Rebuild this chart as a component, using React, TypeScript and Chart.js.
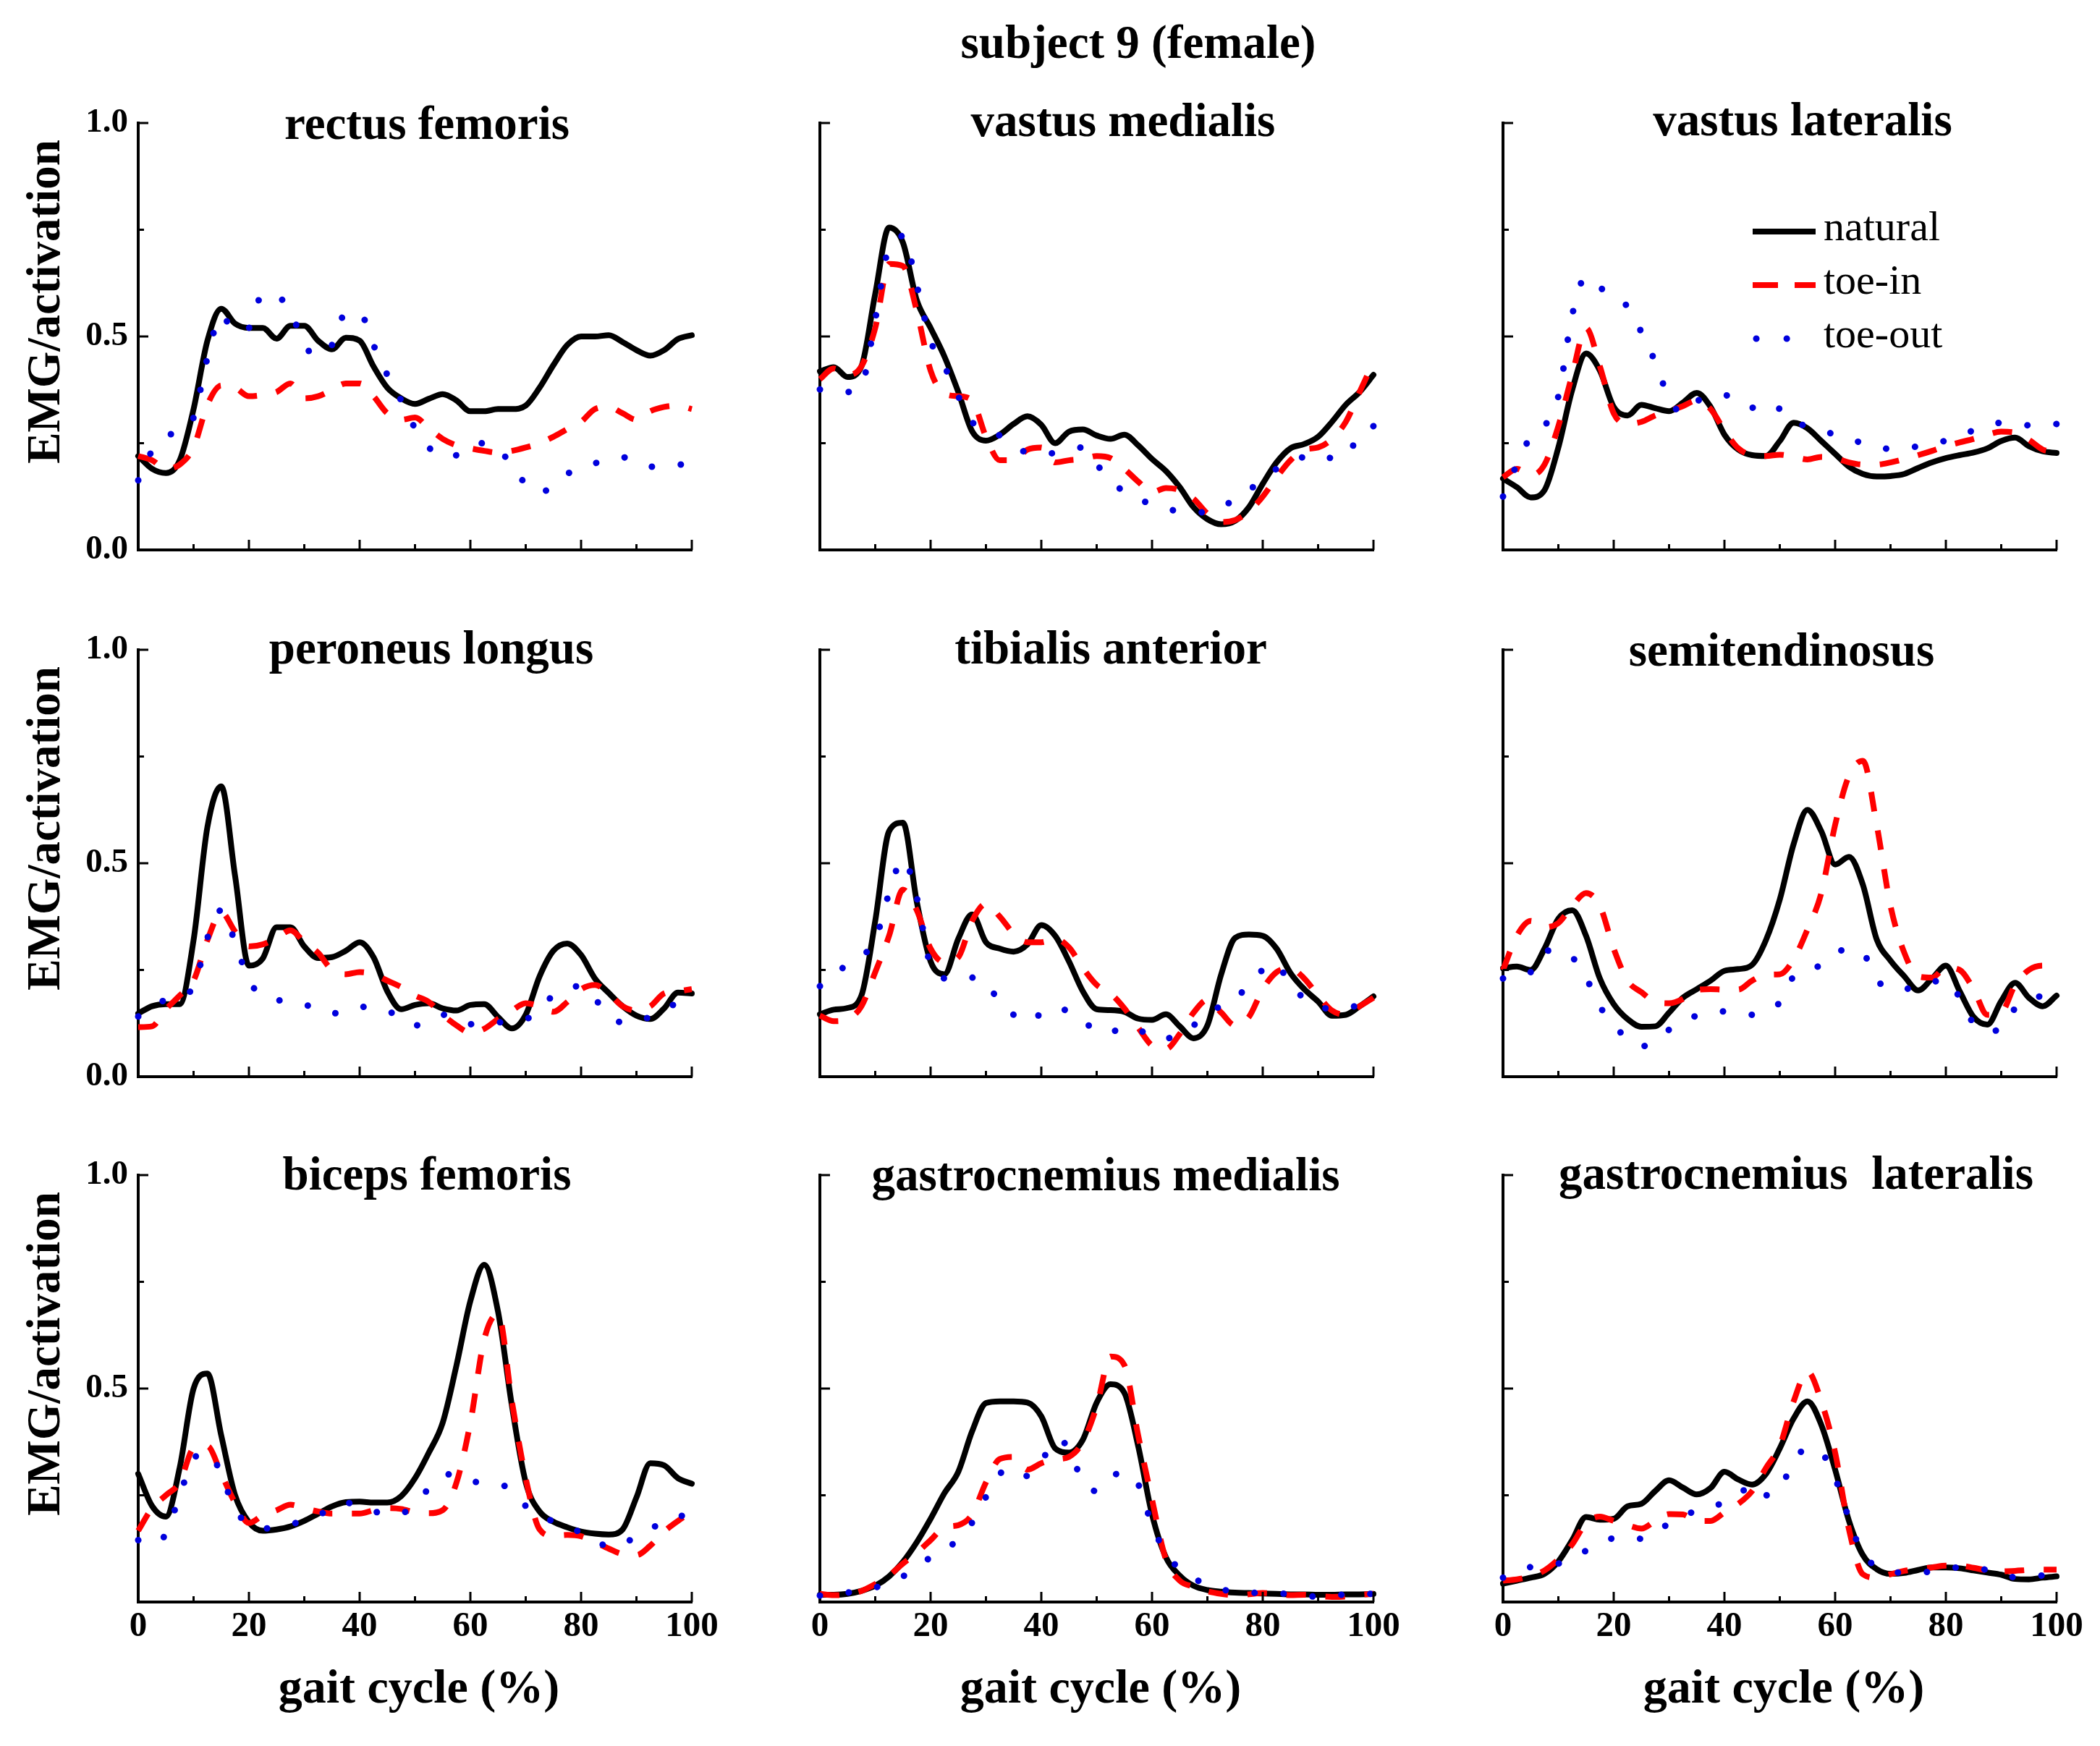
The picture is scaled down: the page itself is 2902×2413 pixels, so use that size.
import React, { useEffect, useRef } from 'react';
import { Chart, registerables } from 'chart.js';

Chart.register(...registerables);

// ---------------- data ----------------
const GAIT = [0, 2.5, 5, 7.5, 10, 12.5, 15, 17.5, 20, 22.5, 25, 27.5, 30, 32.5, 35, 37.5, 40, 42.5, 45, 47.5, 50, 52.5, 55, 57.5, 60, 62.5, 65, 67.5, 70, 72.5, 75, 77.5, 80, 82.5, 85, 87.5, 90, 92.5, 95, 97.5, 100];
const X_TICK_VALUES = [0, 10, 20, 30, 40, 50, 60, 70, 80, 90, 100];
const X_TICK_LABELS = ['0', '', '20', '', '40', '', '60', '', '80', '', '100'];
const Y_TICK_VALUES = [0, 0.25, 0.5, 0.75, 1];
const Y_TICK_LABELS = ['0.0', '', '0.5', '', '1.0'];
const SERIES_NAMES = ['natural', 'toe-in', 'toe-out'];
const MAIN_TITLE = 'subject 9 (female)';
const X_TITLE = 'gait cycle (%)';
const Y_TITLE = 'EMG/activation';
const MUSCLES = ['rectus femoris', 'vastus medialis', 'vastus lateralis', 'peroneus longus', 'tibialis anterior', 'semitendinosus', 'biceps femoris', 'gastrocnemius medialis', 'gastrocnemius  lateralis'];

// rectus femoris
const rfNatural = [0.22, 0.19, 0.18, 0.21, 0.33, 0.49, 0.565, 0.53, 0.52, 0.52, 0.495, 0.525, 0.525, 0.49, 0.47, 0.497, 0.49, 0.43, 0.38, 0.355, 0.342, 0.354, 0.365, 0.35, 0.325, 0.325, 0.33, 0.33, 0.338, 0.38, 0.433, 0.48, 0.5, 0.5, 0.503, 0.487, 0.468, 0.455, 0.468, 0.494, 0.503];
const rfToeIn = [0.22, 0.21, 0.19, 0.2, 0.24, 0.34, 0.385, 0.38, 0.36, 0.363, 0.37, 0.39, 0.355, 0.36, 0.375, 0.39, 0.39, 0.36, 0.32, 0.305, 0.31, 0.285, 0.26, 0.245, 0.238, 0.232, 0.228, 0.232, 0.24, 0.25, 0.265, 0.283, 0.3, 0.33, 0.335, 0.32, 0.305, 0.325, 0.335, 0.338, 0.33];
const rfToeOut = [0.163, 0.232, 0.265, 0.28, 0.31, 0.45, 0.55, 0.51, 0.52, 0.6, 0.595, 0.56, 0.48, 0.455, 0.48, 0.555, 0.555, 0.48, 0.41, 0.35, 0.285, 0.24, 0.218, 0.222, 0.245, 0.25, 0.24, 0.195, 0.155, 0.133, 0.152, 0.178, 0.192, 0.203, 0.21, 0.217, 0.207, 0.195, 0.196, 0.2, 0.2];

// vastus medialis
const vmNatural = [0.418, 0.428, 0.405, 0.43, 0.6, 0.755, 0.72, 0.585, 0.52, 0.453, 0.37, 0.278, 0.256, 0.27, 0.295, 0.313, 0.293, 0.25, 0.277, 0.282, 0.268, 0.26, 0.27, 0.245, 0.213, 0.185, 0.147, 0.1, 0.072, 0.06, 0.068, 0.1, 0.155, 0.205, 0.238, 0.248, 0.265, 0.3, 0.34, 0.37, 0.41];
const vmToeIn = [0.4, 0.425, 0.41, 0.43, 0.52, 0.67, 0.665, 0.56, 0.42, 0.366, 0.36, 0.35, 0.265, 0.21, 0.21, 0.235, 0.24, 0.205, 0.21, 0.213, 0.22, 0.215, 0.19, 0.16, 0.135, 0.145, 0.14, 0.12, 0.085, 0.065, 0.07, 0.09, 0.125, 0.17, 0.21, 0.235, 0.24, 0.26, 0.3, 0.37, 0.44];
const vmToeOut = [0.376, 0.37, 0.37, 0.385, 0.54, 0.71, 0.735, 0.62, 0.49, 0.43, 0.36, 0.3, 0.28, 0.268, 0.25, 0.227, 0.226, 0.227, 0.235, 0.24, 0.2, 0.165, 0.135, 0.12, 0.106, 0.097, 0.09, 0.088, 0.088, 0.1, 0.119, 0.14, 0.165, 0.19, 0.208, 0.218, 0.225, 0.215, 0.22, 0.27, 0.29];

// vastus lateralis
const vlNatural = [0.167, 0.147, 0.123, 0.14, 0.24, 0.375, 0.46, 0.42, 0.335, 0.315, 0.34, 0.332, 0.325, 0.345, 0.368, 0.335, 0.27, 0.235, 0.222, 0.22, 0.255, 0.298, 0.285, 0.255, 0.225, 0.195, 0.178, 0.172, 0.173, 0.178, 0.192, 0.205, 0.215, 0.222, 0.228, 0.238, 0.255, 0.263, 0.243, 0.231, 0.227];
const vlToeIn = [0.17, 0.19, 0.175, 0.2, 0.29, 0.41, 0.52, 0.43, 0.32, 0.295, 0.3, 0.315, 0.325, 0.337, 0.35, 0.33, 0.28, 0.238, 0.222, 0.22, 0.223, 0.218, 0.212, 0.218, 0.215, 0.205, 0.2, 0.2, 0.205, 0.213, 0.222, 0.232, 0.243, 0.252, 0.26, 0.27, 0.277, 0.275, 0.258, 0.235, 0.23];
const vlToeOut = [0.125, 0.2, 0.265, 0.29, 0.36, 0.55, 0.64, 0.615, 0.59, 0.57, 0.51, 0.44, 0.355, 0.32, 0.348, 0.36, 0.363, 0.345, 0.333, 0.345, 0.33, 0.3, 0.29, 0.28, 0.27, 0.26, 0.25, 0.24, 0.237, 0.238, 0.243, 0.25, 0.256, 0.268, 0.28, 0.29, 0.298, 0.295, 0.292, 0.293, 0.295];

// peroneus longus
const plNatural = [0.148, 0.165, 0.17, 0.17, 0.32, 0.585, 0.68, 0.47, 0.26, 0.277, 0.35, 0.35, 0.305, 0.278, 0.28, 0.295, 0.315, 0.28, 0.2, 0.158, 0.168, 0.172, 0.16, 0.155, 0.168, 0.17, 0.14, 0.113, 0.145, 0.235, 0.295, 0.312, 0.285, 0.23, 0.196, 0.165, 0.143, 0.135, 0.16, 0.197, 0.195];
const plToeIn = [0.116, 0.118, 0.158, 0.19, 0.225, 0.32, 0.385, 0.34, 0.305, 0.31, 0.325, 0.343, 0.315, 0.29, 0.25, 0.24, 0.245, 0.24, 0.225, 0.21, 0.19, 0.175, 0.145, 0.12, 0.103, 0.112, 0.135, 0.155, 0.172, 0.165, 0.152, 0.175, 0.205, 0.215, 0.195, 0.165, 0.155, 0.165, 0.195, 0.2, 0.205];
const plToeOut = [0.141, 0.165, 0.18, 0.19, 0.21, 0.325, 0.39, 0.315, 0.225, 0.19, 0.18, 0.176, 0.17, 0.155, 0.148, 0.155, 0.164, 0.16, 0.155, 0.135, 0.12, 0.13, 0.145, 0.138, 0.123, 0.125, 0.127, 0.13, 0.134, 0.16, 0.19, 0.205, 0.213, 0.18, 0.155, 0.125, 0.13, 0.14, 0.155, 0.175, 0.19];

// tibialis anterior
const taNatural = [0.146, 0.157, 0.161, 0.19, 0.365, 0.575, 0.595, 0.41, 0.27, 0.24, 0.323, 0.38, 0.315, 0.3, 0.293, 0.31, 0.355, 0.33, 0.27, 0.2, 0.158, 0.156, 0.152, 0.136, 0.133, 0.146, 0.118, 0.09, 0.12, 0.24, 0.325, 0.333, 0.33, 0.3, 0.243, 0.205, 0.176, 0.143, 0.145, 0.165, 0.188];
const taToeIn = [0.143, 0.13, 0.135, 0.165, 0.245, 0.33, 0.438, 0.39, 0.3, 0.268, 0.28, 0.365, 0.405, 0.375, 0.335, 0.315, 0.315, 0.323, 0.303, 0.255, 0.215, 0.195, 0.16, 0.115, 0.073, 0.065, 0.1, 0.15, 0.18, 0.15, 0.12, 0.14, 0.205, 0.245, 0.254, 0.23, 0.19, 0.155, 0.145, 0.165, 0.185];
const taToeOut = [0.212, 0.24, 0.262, 0.282, 0.32, 0.43, 0.51, 0.42, 0.26, 0.23, 0.226, 0.232, 0.223, 0.172, 0.145, 0.128, 0.148, 0.163, 0.152, 0.135, 0.105, 0.105, 0.115, 0.112, 0.09, 0.09, 0.098, 0.12, 0.15, 0.165, 0.18, 0.218, 0.25, 0.265, 0.21, 0.185, 0.162, 0.16, 0.159, 0.17, 0.18];

// semitendinosus
const stNatural = [0.254, 0.258, 0.25, 0.3, 0.37, 0.39, 0.33, 0.23, 0.17, 0.135, 0.117, 0.118, 0.15, 0.185, 0.205, 0.225, 0.248, 0.252, 0.262, 0.32, 0.415, 0.545, 0.625, 0.575, 0.497, 0.515, 0.45, 0.322, 0.272, 0.235, 0.202, 0.23, 0.26, 0.2, 0.14, 0.122, 0.177, 0.22, 0.185, 0.165, 0.19];
const stToeIn = [0.25, 0.33, 0.365, 0.35, 0.36, 0.4, 0.43, 0.4, 0.3, 0.225, 0.198, 0.175, 0.172, 0.182, 0.203, 0.205, 0.204, 0.204, 0.225, 0.239, 0.24, 0.275, 0.345, 0.43, 0.59, 0.705, 0.74, 0.59, 0.4, 0.29, 0.235, 0.232, 0.255, 0.25, 0.205, 0.145, 0.15, 0.215, 0.25, 0.26, 0.255];
const stToeOut = [0.23, 0.232, 0.245, 0.294, 0.296, 0.28, 0.232, 0.165, 0.12, 0.09, 0.07, 0.09, 0.11, 0.128, 0.143, 0.148, 0.153, 0.15, 0.145, 0.155, 0.174, 0.235, 0.25, 0.262, 0.29, 0.298, 0.29, 0.228, 0.205, 0.205, 0.215, 0.222, 0.226, 0.185, 0.125, 0.107, 0.111, 0.16, 0.18, 0.19, 0.2];

// biceps femoris
const bfNatural = [0.3, 0.225, 0.2, 0.315, 0.5, 0.535, 0.39, 0.25, 0.187, 0.167, 0.17, 0.177, 0.19, 0.207, 0.224, 0.234, 0.235, 0.233, 0.233, 0.248, 0.29, 0.35, 0.42, 0.555, 0.705, 0.79, 0.68, 0.46, 0.28, 0.212, 0.188, 0.175, 0.165, 0.16, 0.158, 0.17, 0.245, 0.325, 0.32, 0.29, 0.277];
const bfToeIn = [0.167, 0.22, 0.25, 0.28, 0.36, 0.365, 0.3, 0.232, 0.185, 0.203, 0.215, 0.228, 0.22, 0.212, 0.207, 0.207, 0.207, 0.215, 0.22, 0.218, 0.21, 0.208, 0.215, 0.28, 0.42, 0.615, 0.675, 0.47, 0.29, 0.17, 0.155, 0.157, 0.154, 0.14, 0.125, 0.112, 0.11, 0.132, 0.165, 0.19, 0.212];
const bfToeOut = [0.145, 0.135, 0.16, 0.25, 0.335, 0.35, 0.3, 0.215, 0.185, 0.172, 0.175, 0.181, 0.193, 0.204, 0.218, 0.233, 0.222, 0.212, 0.208, 0.207, 0.235, 0.265, 0.295, 0.3, 0.285, 0.278, 0.276, 0.262, 0.225, 0.205, 0.188, 0.175, 0.163, 0.148, 0.128, 0.14, 0.15, 0.17, 0.19, 0.2, 0.205];

// gastrocnemius medialis
const gmNatural = [0.017, 0.017, 0.019, 0.026, 0.038, 0.06, 0.094, 0.14, 0.195, 0.255, 0.305, 0.4, 0.466, 0.47, 0.47, 0.467, 0.435, 0.36, 0.35, 0.38, 0.467, 0.51, 0.49, 0.365, 0.205, 0.105, 0.062, 0.038, 0.028, 0.024, 0.022, 0.021, 0.02, 0.019, 0.018, 0.018, 0.017, 0.017, 0.018, 0.018, 0.019];
const gmToeIn = [0.019, 0.016, 0.018, 0.026, 0.042, 0.062, 0.09, 0.115, 0.145, 0.175, 0.18, 0.205, 0.28, 0.335, 0.34, 0.31, 0.325, 0.334, 0.34, 0.375, 0.458, 0.575, 0.555, 0.39, 0.24, 0.1, 0.05, 0.036, 0.025, 0.019, 0.016, 0.018, 0.021, 0.019, 0.016, 0.017, 0.014, 0.012, 0.013, 0.017, 0.019];
const gmToeOut = [0.015, 0.018, 0.022, 0.028, 0.034, 0.045, 0.06, 0.08, 0.105, 0.125, 0.145, 0.186, 0.246, 0.3, 0.313, 0.295, 0.328, 0.38, 0.36, 0.28, 0.26, 0.293, 0.303, 0.276, 0.18, 0.115, 0.077, 0.055, 0.042, 0.03, 0.024, 0.022, 0.021, 0.02, 0.019, 0.016, 0.012, 0.014, 0.018, 0.019, 0.019];

// gastrocnemius lateralis
const glNatural = [0.043, 0.05, 0.057, 0.066, 0.095, 0.145, 0.199, 0.193, 0.195, 0.224, 0.23, 0.26, 0.285, 0.268, 0.252, 0.267, 0.305, 0.287, 0.275, 0.3, 0.36, 0.43, 0.47, 0.415, 0.31, 0.19, 0.11, 0.077, 0.066, 0.068, 0.075, 0.081, 0.081, 0.079, 0.074, 0.069, 0.064, 0.054, 0.053, 0.057, 0.06];
const glToeIn = [0.05, 0.053, 0.06, 0.074, 0.1, 0.135, 0.185, 0.2, 0.19, 0.18, 0.172, 0.19, 0.206, 0.205, 0.19, 0.19, 0.21, 0.23, 0.26, 0.314, 0.366, 0.47, 0.54, 0.47, 0.35, 0.17, 0.065, 0.057, 0.065, 0.073, 0.077, 0.081, 0.085, 0.085, 0.08, 0.074, 0.072, 0.073, 0.075, 0.076, 0.076];
const glToeOut = [0.057, 0.07, 0.082, 0.087, 0.09, 0.105, 0.12, 0.135, 0.15, 0.152, 0.148, 0.16, 0.185, 0.2, 0.215, 0.225, 0.232, 0.25, 0.275, 0.25, 0.265, 0.33, 0.36, 0.35, 0.29, 0.195, 0.11, 0.085, 0.07, 0.069, 0.069, 0.072, 0.078, 0.081, 0.079, 0.075, 0.067, 0.058, 0.06, 0.062, 0.062];

const NATURAL = [rfNatural, vmNatural, vlNatural, plNatural, taNatural, stNatural, bfNatural, gmNatural, glNatural];
const TOE_IN = [rfToeIn, vmToeIn, vlToeIn, plToeIn, taToeIn, stToeIn, bfToeIn, gmToeIn, glToeIn];
const TOE_OUT = [rfToeOut, vmToeOut, vlToeOut, plToeOut, taToeOut, stToeOut, bfToeOut, gmToeOut, glToeOut];

// ---------------- layout / style ----------------
const PAGE_W = 2902;
const PAGE_H = 2413;
const PLOT_LEFT = [191, 1133, 2077];
const PLOT_TOP = [170, 898, 1624];
const PLOT_W = 765;
const PLOT_H = 590;
const PAD_LEFT = 190;
const PAD_TOP = 140;
const PAD_RIGHT = 60;
const PAD_BOTTOM = [60, 60, 190];
const TITLE_DX = [399, 419, 414, 405, 402, 385, 399, 395, 405];
const TITLE_DY = [22, 18, 17, 19, 19, 22, 20, 21, 19];
const SERIF = '"Liberation Serif", "Times New Roman", serif';
const COLORS = ['#000000', '#ff0000', '#0000dd'];

const decorPlugin = {
  id: 'decor',
  afterDraw(chart: any, _args: any, opts: any) {
    const { ctx, chartArea: a, scales } = chart;
    const xs = scales.x;
    const ys = scales.y;
    ctx.save();
    // inward tick marks
    ctx.strokeStyle = '#000';
    ctx.lineWidth = 3;
    ctx.lineCap = 'butt';
    ctx.setLineDash([]);
    X_TICK_VALUES.forEach((v) => {
      if (v === 0) return;
      const px = xs.getPixelForValue(v);
      const len = v % 20 === 0 ? 14 : 8;
      ctx.beginPath();
      ctx.moveTo(px, a.bottom);
      ctx.lineTo(px, a.bottom - len);
      ctx.stroke();
    });
    Y_TICK_VALUES.forEach((v) => {
      if (v === 0) return;
      const py = ys.getPixelForValue(v);
      const len = Math.abs(v * 2 - Math.round(v * 2)) < 1e-6 ? 14 : 8;
      ctx.beginPath();
      ctx.moveTo(a.left, py);
      ctx.lineTo(a.left + len, py);
      ctx.stroke();
    });

    ctx.fillStyle = '#000';
    // panel title
    ctx.font = `bold 65px ${SERIF}`;
    ctx.textAlign = 'center';
    ctx.textBaseline = 'alphabetic';
    ctx.fillText(opts.title, a.left + opts.titleDx, a.top + opts.titleDy);

    if (opts.mainTitle) {
      ctx.fillText(opts.mainTitle, a.left + 440, a.top - 90);
    }
    if (opts.yTitle) {
      ctx.save();
      ctx.translate(a.left - 109, a.top + 247);
      ctx.rotate(-Math.PI / 2);
      ctx.font = `bold 65px ${SERIF}`;
      ctx.textAlign = 'center';
      ctx.fillText(opts.yTitle, 0, 0);
      ctx.restore();
    }
    if (opts.xTitle) {
      ctx.font = `bold 66px ${SERIF}`;
      ctx.textAlign = 'center';
      ctx.fillText(opts.xTitle, a.left + 388, a.top + 729);
    }
    if (opts.legend) {
      const rows = [150, 224, 298];
      const x0 = a.left + 345;
      const x1 = a.left + 432;
      // natural
      ctx.strokeStyle = COLORS[0];
      ctx.lineWidth = 8;
      ctx.lineCap = 'butt';
      ctx.setLineDash([]);
      ctx.beginPath();
      ctx.moveTo(x0, a.top + rows[0]);
      ctx.lineTo(x1, a.top + rows[0]);
      ctx.stroke();
      // toe-in
      ctx.strokeStyle = COLORS[1];
      ctx.setLineDash([35, 23]);
      ctx.beginPath();
      ctx.moveTo(x0, a.top + rows[1]);
      ctx.lineTo(x1, a.top + rows[1]);
      ctx.stroke();
      // toe-out
      ctx.strokeStyle = COLORS[2];
      ctx.lineWidth = 9;
      ctx.lineCap = 'round';
      ctx.setLineDash([0.1, 42]);
      ctx.beginPath();
      ctx.moveTo(a.left + 350, a.top + rows[2]);
      ctx.lineTo(a.left + 394, a.top + rows[2]);
      ctx.stroke();
      ctx.setLineDash([]);
      ctx.font = `58px ${SERIF}`;
      ctx.textAlign = 'left';
      ctx.fillStyle = '#000';
      SERIES_NAMES.forEach((name, i) => {
        ctx.fillText(name, a.left + 443, a.top + rows[i] + 12);
      });
    }
    ctx.restore();
  },
};

function toPoints(vals: number[]) {
  return GAIT.map((x, i) => ({ x, y: vals[i] }));
}

function Panel({ idx }: { idx: number }) {
  const ref = useRef<HTMLCanvasElement | null>(null);
  const r = Math.floor(idx / 3);
  const c = idx % 3;
  const w = PAD_LEFT + PLOT_W + PAD_RIGHT;
  const h = PAD_TOP + PLOT_H + PAD_BOTTOM[r];
  const left = PLOT_LEFT[c] - PAD_LEFT;
  const top = PLOT_TOP[r] - PAD_TOP;
  const isBottom = r === 2;
  const isLeft = c === 0;

  useEffect(() => {
    if (!ref.current) return;
    const tickFont = { family: SERIF, weight: 'bold' as const, lineHeight: 1.2 };
    const chart = new Chart(ref.current, {
      type: 'line',
      data: {
        datasets: [
          {
            label: SERIES_NAMES[0],
            data: toPoints(NATURAL[idx]),
            borderColor: COLORS[0],
            borderWidth: 8,
            borderJoinStyle: 'round',
            borderCapStyle: 'round',
            cubicInterpolationMode: 'monotone',
            pointRadius: 0,
            order: 2,
            clip: false,
          },
          {
            label: SERIES_NAMES[1],
            data: toPoints(TOE_IN[idx]),
            borderColor: COLORS[1],
            borderWidth: 8,
            borderDash: [27, 27],
            borderCapStyle: 'butt',
            cubicInterpolationMode: 'monotone',
            pointRadius: 0,
            order: 1,
            clip: false,
          },
          {
            label: SERIES_NAMES[2],
            data: toPoints(TOE_OUT[idx]),
            borderColor: COLORS[2],
            borderWidth: 9,
            borderDash: [0.1, 40],
            borderCapStyle: 'round',
            cubicInterpolationMode: 'monotone',
            pointRadius: 0,
            order: 0,
            clip: false,
          },
        ] as any,
      },
      options: {
        responsive: false,
        animation: false,
        devicePixelRatio: 1,
        events: [],
        layout: {
          autoPadding: false,
          padding: { left: 0, top: PAD_TOP, right: PAD_RIGHT, bottom: 0 },
        },
        plugins: {
          legend: { display: false },
          tooltip: { enabled: false },
          title: { display: false },
          decor: {
            title: MUSCLES[idx],
            titleDx: TITLE_DX[idx],
            titleDy: TITLE_DY[idx],
            mainTitle: idx === 1 ? MAIN_TITLE : null,
            yTitle: isLeft ? Y_TITLE : null,
            xTitle: isBottom ? X_TITLE : null,
            legend: idx === 2,
          },
        } as any,
        scales: {
          x: {
            type: 'linear',
            min: 0,
            max: 100,
            afterFit: (s: any) => {
              s.height = PAD_BOTTOM[r];
            },
            border: { display: true, color: '#000', width: 4 },
            grid: { display: false, drawTicks: false },
            ticks: {
              display: isBottom,
              stepSize: 20,
              autoSkip: false,
              maxRotation: 0,
              minRotation: 0,
              padding: 5,
              color: '#000',
              font: { ...tickFont, size: 49 },
              callback: (v: any) => {
                const k = X_TICK_VALUES.indexOf(Number(v));
                return k >= 0 ? X_TICK_LABELS[k] : '';
              },
            },
          },
          y: {
            type: 'linear',
            min: 0,
            max: 1,
            afterFit: (s: any) => {
              s.width = PAD_LEFT;
            },
            border: { display: true, color: '#000', width: 4 },
            grid: { display: false, drawTicks: false },
            ticks: {
              display: isLeft,
              stepSize: 0.5,
              autoSkip: false,
              padding: 14,
              color: '#000',
              font: { ...tickFont, size: 47 },
              callback: (v: any) => {
                const n = Number(v);
                if (isBottom && n === 0) return '';
                const k = Y_TICK_VALUES.findIndex((t) => Math.abs(t - n) < 1e-9);
                return k >= 0 ? Y_TICK_LABELS[k] : '';
              },
            },
          },
        } as any,
      },
      plugins: [decorPlugin],
    } as any);
    return () => chart.destroy();
  }, [idx]);

  return (
    <canvas
      ref={ref}
      width={w}
      height={h}
      style={{ position: 'absolute', left, top, width: w, height: h }}
    />
  );
}

export default function App() {
  return (
    <div
      style={{
        position: 'absolute',
        left: 0,
        top: 0,
        width: PAGE_W,
        height: PAGE_H,
        overflow: 'hidden',
        background: '#ffffff',
      }}
    >
      {MUSCLES.map((_, i) => (
        <Panel key={i} idx={i} />
      ))}
    </div>
  );
}
